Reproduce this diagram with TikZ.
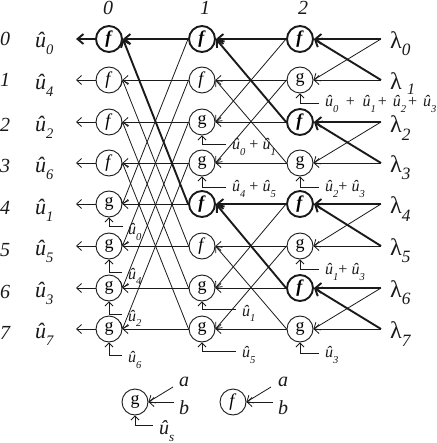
\documentclass[tikz,border=0pt]{standalone}
\usepackage{fontspec}
\usepackage{graphicx}
\setmainfont{Liberation Serif}
\usetikzlibrary{arrows.meta}
\definecolor{Ink}{HTML}{1A1A1A}
\newcommand{\uhat}[1]{\textit{û}\raisebox{-.32em}{\scalebox{.66}{\textit{#1}}}}
\newcommand{\lam}[1]{λ\raisebox{-.3em}{\scalebox{.72}{\textit{#1}}}}
\tikzset{
  gate/.style={circle,draw=Ink,line width=.9pt,minimum size=26pt,inner sep=0pt,font=\fontsize{18}{18}\selectfont},
  hotgate/.style={gate,line width=1.9pt,font=\fontsize{18}{18}\selectfont\bfseries},
  wire/.style={draw=Ink,line width=.8pt,-{Straight Barb[length=5pt,width=9pt]}},
  hotwire/.style={draw=Ink,line width=1.9pt,-{Straight Barb[length=6pt,width=10pt]}},
  feed/.style={draw=Ink,line width=.8pt,-{Straight Barb[length=4pt,width=8pt]}},
  rowtag/.style={font=\fontsize{20}{20}\selectfont\itshape,text=Ink,inner sep=0pt},
  bit/.style={anchor=west,font=\fontsize{22}{22}\selectfont,text=Ink,inner sep=0pt},
  llr/.style={anchor=west,font=\fontsize{24}{24}\selectfont,text=Ink,inner sep=0pt},
  sum/.style={anchor=west,font=\fontsize{16}{16}\selectfont,text=Ink,inner sep=0pt}
}
\begin{document}
\begin{tikzpicture}[x=1pt,y=-1pt]
\path[use as bounding box,fill=white] (0,0) rectangle (436,443);
\node[rowtag] (h0) at (108,8) {0};
\node[rowtag] (h1) at (205,8) {1};
\node[rowtag] (h2) at (303,8) {2};
\node[rowtag] (r0) at (5,39) {0};
\node[rowtag] (r1) at (5,80) {1};
\node[rowtag] (r2) at (5,125) {2};
\node[rowtag] (r3) at (5,166) {3};
\node[rowtag] (r4) at (5,208) {4};
\node[rowtag] (r5) at (5,250) {5};
\node[rowtag] (r6) at (5,292) {6};
\node[rowtag] (r7) at (5,333) {7};
\node[bit] (u0) at (35,43) {\uhat{0}};
\node[bit] (u1) at (35,85) {\uhat{4}};
\node[bit] (u2) at (35,127) {\uhat{2}};
\node[bit] (u3) at (35,168) {\uhat{6}};
\node[bit] (u4) at (35,210) {\uhat{1}};
\node[bit] (u5) at (35,251) {\uhat{5}};
\node[bit] (u6) at (35,293) {\uhat{3}};
\node[bit] (u7) at (35,334) {\uhat{7}};
\coordinate (o0) at (76,39);
\coordinate (o1) at (76,80);
\coordinate (o2) at (76,122);
\coordinate (o3) at (76,163);
\coordinate (o4) at (76,204);
\coordinate (o5) at (76,246);
\coordinate (o6) at (76,288);
\coordinate (o7) at (76,329);
\node[hotgate] (a0) at (109,39) {\textit{f}};
\node[gate] (a1) at (109,80) {\textit{f}};
\node[gate] (a2) at (109,122) {\textit{f}};
\node[gate] (a3) at (109,163) {\textit{f}};
\node[gate] (a4) at (109,204) {g};
\node[gate] (a5) at (109,246) {g};
\node[gate] (a6) at (109,288) {g};
\node[gate] (a7) at (109,329) {g};
\node[hotgate] (b0) at (202,39) {\textit{f}};
\node[gate] (b1) at (202,80) {\textit{f}};
\node[gate] (b2) at (202,122) {g};
\node[gate] (b3) at (202,163) {g};
\node[hotgate] (b4) at (202,204) {\textit{f}};
\node[gate] (b5) at (202,246) {\textit{f}};
\node[gate] (b6) at (202,288) {g};
\node[gate] (b7) at (202,329) {g};
\node[hotgate] (c0) at (300,39) {\textit{f}};
\node[gate] (c1) at (300,80) {g};
\node[hotgate] (c2) at (300,122) {\textit{f}};
\node[gate] (c3) at (300,163) {g};
\node[hotgate] (c4) at (300,204) {\textit{f}};
\node[gate] (c5) at (300,246) {g};
\node[hotgate] (c6) at (300,288) {\textit{f}};
\node[gate] (c7) at (300,329) {g};
\coordinate (l0) at (381,39);
\coordinate (l1) at (381,80);
\coordinate (l2) at (381,122);
\coordinate (l3) at (381,163);
\coordinate (l4) at (381,204);
\coordinate (l5) at (381,246);
\coordinate (l6) at (381,288);
\coordinate (l7) at (381,329);
\node[llr] (t0) at (390,44) {\lam{0}};
\node[llr] (t1) at (390,81) {λ};
\node[font=\fontsize{16}{16}\selectfont\itshape,text=Ink,inner sep=0pt] (t1s) at (411,89) {1};
\node[llr] (t2) at (390,128) {\lam{2}};
\node[llr] (t3) at (390,168) {\lam{3}};
\node[llr] (t4) at (390,209) {\lam{4}};
\node[llr] (t5) at (390,251) {\lam{5}};
\node[llr] (t6) at (390,293) {\lam{6}};
\node[llr] (t7) at (390,334) {\lam{7}};
\draw[wire] (b1.west) -- (a1.east);
\draw[wire] (b2.west) -- (a2.east);
\draw[wire] (b3.west) -- (a3.east);
\draw[wire] (b4.west) -- (a4.east);
\draw[wire] (b5.west) -- (a5.east);
\draw[wire] (b6.west) -- (a6.east);
\draw[wire] (b7.west) -- (a7.east);
\draw[wire] (b0.west) -- (a4.east);
\draw[wire] (b1.west) -- (a5.east);
\draw[wire] (b2.west) -- (a6.east);
\draw[wire] (b3.west) -- (a7.east);
\draw[wire] (b5.west) -- (a1.east);
\draw[wire] (b6.west) -- (a2.east);
\draw[wire] (b7.west) -- (a3.east);
\draw[wire] (c1.west) -- (b1.east);
\draw[wire] (c2.west) -- (b2.east);
\draw[wire] (c3.west) -- (b3.east);
\draw[wire] (c0.west) -- (b2.east);
\draw[wire] (c1.west) -- (b3.east);
\draw[wire] (c3.west) -- (b1.east);
\draw[wire] (c5.west) -- (b5.east);
\draw[wire] (c6.west) -- (b6.east);
\draw[wire] (c7.west) -- (b7.east);
\draw[wire] (c4.west) -- (b6.east);
\draw[wire] (c5.west) -- (b7.east);
\draw[wire] (c7.west) -- (b5.east);
\draw[wire] (l0) -- (c1.east);
\draw[wire] (l1) -- (c1.east);
\draw[wire] (l2) -- (c3.east);
\draw[wire] (l3) -- (c3.east);
\draw[wire] (l4) -- (c5.east);
\draw[wire] (l5) -- (c5.east);
\draw[wire] (l6) -- (c7.east);
\draw[wire] (l7) -- (c7.east);
\draw[wire] (a1.west) -- (o1);
\draw[wire] (a2.west) -- (o2);
\draw[wire] (a3.west) -- (o3);
\draw[wire] (a4.west) -- (o4);
\draw[wire] (a5.west) -- (o5);
\draw[wire] (a6.west) -- (o6);
\draw[wire] (a7.west) -- (o7);
\draw[hotwire] (a0.west) -- (o0);
\draw[hotwire] (b0.west) -- (a0.east);
\draw[hotwire] (b4.west) -- (a0.east);
\draw[hotwire] (c0.west) -- (b0.east);
\draw[hotwire] (c2.west) -- (b0.east);
\draw[hotwire] (c4.west) -- (b4.east);
\draw[hotwire] (c6.west) -- (b4.east);
\draw[hotwire] (l0) -- (c0.east);
\draw[hotwire] (l1) -- (c0.east);
\draw[hotwire] (l2) -- (c2.east);
\draw[hotwire] (l3) -- (c2.east);
\draw[hotwire] (l4) -- (c4.east);
\draw[hotwire] (l5) -- (c4.east);
\draw[hotwire] (l6) -- (c6.east);
\draw[hotwire] (l7) -- (c6.east);
\coordinate (e4) at (123,226);
\coordinate (e5) at (122,272);
\coordinate (e6) at (122,314);
\coordinate (e7) at (122,355);
\node[sum] (s4) at (128,232) {\uhat{0}};
\node[sum] (s5) at (128,276) {\uhat{4}};
\node[sum] (s6) at (128,318) {\uhat{2}};
\node[sum] (s7) at (128,360) {\uhat{6}};
\draw[feed] (e4) -| (a4.south);
\draw[feed] (e5) -| (a5.south);
\draw[feed] (e6) -| (a6.south);
\draw[feed] (e7) -| (a7.south);
\coordinate (e8) at (226,144);
\coordinate (e9) at (226,187);
\coordinate (e10) at (236,309);
\coordinate (e11) at (236,351);
\node[sum] (s8) at (232,147) {\uhat{0} + \uhat{1}};
\node[sum] (s9) at (232,189) {\uhat{4} + \uhat{5}};
\node[sum] (s10) at (242,313) {\uhat{1}};
\node[sum] (s11) at (242,355) {\uhat{5}};
\draw[feed] (e8) -| (b2.south);
\draw[feed] (e9) -| (b3.south);
\draw[feed] (e10) -| (b6.south);
\draw[feed] (e11) -| (b7.south);
\coordinate (e12) at (319,103);
\coordinate (e13) at (319,187);
\coordinate (e14) at (319,269);
\coordinate (e15) at (319,353);
\node[sum] (s12) at (325,104) {\uhat{0}\hspace{3.5pt} + \hspace{3.5pt}\uhat{1}\hspace{2pt}+ \hspace{2pt}\uhat{2}\hspace{2pt}+ \hspace{2pt}\uhat{3}};
\node[sum] (s13) at (325,189) {\uhat{2}+ \uhat{3}};
\node[sum] (s14) at (325,272) {\uhat{1}+ \uhat{3}};
\node[sum] (s15) at (325,355) {\uhat{3}};
\draw[feed] (e12) -| (c1.south);
\draw[feed] (e13) -| (c3.south);
\draw[feed] (e14) -| (c5.south);
\draw[feed] (e15) -| (c7.south);
\node[gate] (kg) at (135,402) {g};
\node[gate] (kf) at (233,402) {\textit{f}};
\coordinate (kga) at (173,387);
\coordinate (kgb) at (174,402);
\coordinate (kfa) at (271,387);
\coordinate (kfb) at (273,402);
\coordinate (kgs) at (153,425);
\node[rowtag] (kgat) at (184,382) {a};
\node[rowtag] (kgbt) at (184,408) {b};
\node[rowtag] (kfat) at (283,382) {a};
\node[rowtag] (kfbt) at (283,408) {b};
\node[font=\fontsize{20}{20}\selectfont,text=Ink,inner sep=0pt,anchor=west] (kgst) at (159,431) {\uhat{s}};
\draw[wire] (kga) -- (kg.east);
\draw[wire] (kgb) -- (kg.east);
\draw[wire] (kfa) -- (kf.east);
\draw[wire] (kfb) -- (kf.east);
\draw[feed] (kgs) -| (kg.south);
\end{tikzpicture}
\end{document}
